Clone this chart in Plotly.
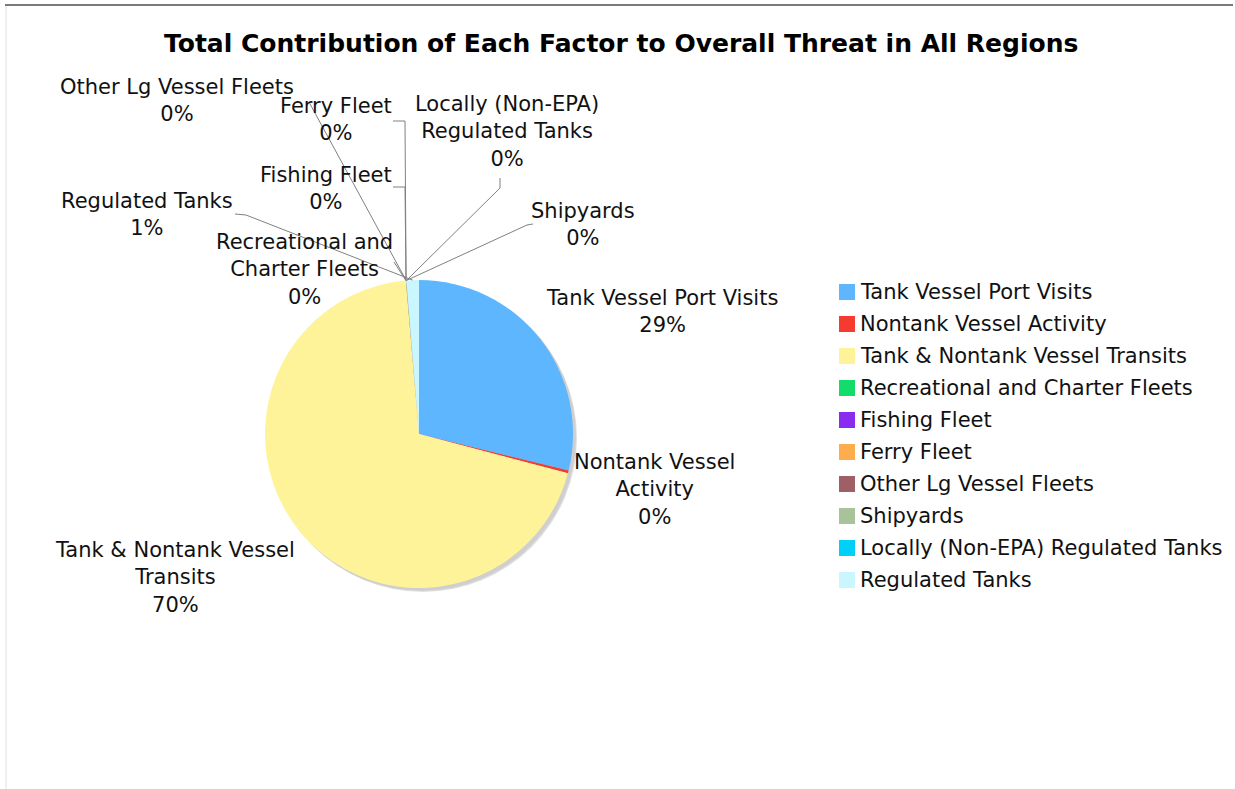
import math
import plotly.graph_objects as go

# ---- data -------------------------------------------------------------
factors = [
    "Tank Vessel Port Visits",
    "Nontank Vessel Activity",
    "Tank & Nontank Vessel Transits",
    "Recreational and Charter Fleets",
    "Fishing Fleet",
    "Ferry Fleet",
    "Other Lg Vessel Fleets",
    "Shipyards",
    "Locally (Non-EPA) Regulated Tanks",
    "Regulated Tanks",
]
shares = [28.8, 0.3, 69.55, 0.01, 0.01, 0.01, 0.01, 0.01, 0.01, 1.3]
colors = [
    "#5EB6FF", "#F53A2F", "#FFF39A", "#12DD6B", "#8A2BF0",
    "#FFAD4C", "#9E5F65", "#A8C39A", "#00CFF8", "#C9F6FF",
]
title_text = "Total Contribution of Each Factor to Overall Threat in All Regions"

# ---- geometry (pixels) --------------------------------------------------
W, H = 1235, 789
CX, CY, R = 419, 434, 154
FONT = "DejaVu Sans, Verdana, sans-serif"
LABEL_SIZE = 21

# legend block: first row centre, row pitch, swatch size
LEG_X, LEG_Y0, LEG_DY, SW = 839, 292, 32, 16


def px(x):
    return x / W


def py(y):
    return 1 - y / H


# wrapped label text, label centre and leader-line points on the label side
label_layout = {
    "Tank Vessel Port Visits": (["Tank Vessel Port Visits"], 662, 311, []),
    "Nontank Vessel Activity": (["Nontank Vessel", "Activity"], 654, 489, []),
    "Tank & Nontank Vessel Transits": (["Tank & Nontank Vessel", "Transits"], 175, 577, []),
    "Recreational and Charter Fleets": (["Recreational and", "Charter Fleets"], 304, 269, [(394, 262)]),
    "Fishing Fleet": (["Fishing Fleet"], 326, 188, [(393, 187), (405, 187)]),
    "Ferry Fleet": (["Ferry Fleet"], 336, 120, [(393, 121), (405, 121)]),
    "Other Lg Vessel Fleets": (["Other Lg Vessel Fleets"], 177, 101, [(309, 102)]),
    "Shipyards": (["Shipyards"], 583, 224, [(533, 224), (527, 225)]),
    "Locally (Non-EPA) Regulated Tanks": (["Locally (Non-EPA)", "Regulated Tanks"], 507, 131, [(500, 178), (500, 188)]),
    "Regulated Tanks": (["Regulated Tanks"], 147, 214, [(235, 214), (246, 215)]),
}

total = sum(shares)

fig = go.Figure()

fig.add_trace(go.Pie(
    labels=factors,
    values=shares,
    sort=False,
    direction="clockwise",
    rotation=0,
    marker=dict(colors=colors, line=dict(width=0)),
    textinfo="none",
    hoverinfo="label+percent",
    domain=dict(x=[px(CX - R), px(CX + R)], y=[py(CY + R), py(CY - R)]),
    showlegend=False,
))

shapes = []
# soft drop shadow under the pie
for off, col in [(4, "#e2e2e2"), (3, "#cfcfcf")]:
    shapes.append(dict(
        type="circle", xref="paper", yref="paper", layer="below",
        x0=px(CX - R + off), x1=px(CX + R + off),
        y0=py(CY + R + off), y1=py(CY - R + off),
        fillcolor=col, line=dict(width=0),
    ))

# page frame lines
shapes.append(dict(type="line", xref="paper", yref="paper",
                   x0=px(5), x1=px(1233), y0=py(5), y1=py(5),
                   line=dict(color="#7a7a7a", width=2)))
shapes.append(dict(type="line", xref="paper", yref="paper",
                   x0=px(6), x1=px(6), y0=py(6), y1=py(789),
                   line=dict(color="#efefef", width=2)))

annotations = []
cum = 0.0
for name, val in zip(factors, shares):
    frac = val / total
    mid = (cum + frac / 2) * 2 * math.pi
    cum += frac
    ax_ = CX + R * math.sin(mid)
    ay_ = CY - R * math.cos(mid)
    lines, lx, ly, pts = label_layout[name]
    pct = f"{round(100 * frac)}%"
    annotations.append(dict(
        xref="paper", yref="paper", x=px(lx), y=py(ly),
        xanchor="center", yanchor="middle", showarrow=False,
        text="<br>".join(lines + [pct]),
        font=dict(family=FONT, size=LABEL_SIZE, color="#111111"),
        align="center",
    ))
    if pts:
        path_pts = pts + [(ax_, ay_)]
        d = "M " + " L ".join(f"{px(x):.5f},{py(y):.5f}" for x, y in path_pts)
        shapes.append(dict(type="path", xref="paper", yref="paper", path=d,
                           line=dict(color="#808080", width=1)))

# legend: colour swatch plus factor name, one row per slice
for i, (name, col) in enumerate(zip(factors, colors)):
    yc = LEG_Y0 + i * LEG_DY
    shapes.append(dict(type="rect", xref="paper", yref="paper",
                       x0=px(LEG_X), x1=px(LEG_X + SW),
                       y0=py(yc + SW / 2), y1=py(yc - SW / 2),
                       fillcolor=col, line=dict(width=0)))
    annotations.append(dict(
        xref="paper", yref="paper", x=px(LEG_X + SW + 3), y=py(yc),
        xanchor="left", yanchor="middle", showarrow=False,
        text=name, font=dict(family=FONT, size=LABEL_SIZE, color="#111111"),
    ))

fig.update_layout(
    width=W, height=H, autosize=False,
    margin=dict(l=0, r=0, t=0, b=0),
    paper_bgcolor="white", plot_bgcolor="white",
    title=dict(text=title_text, x=0.503, xanchor="center",
               y=py(43), yanchor="middle",
               font=dict(family=FONT, size=25, color="#000000", weight="bold")),
    shapes=shapes,
    annotations=annotations,
)

fig.write_html("out.html")
